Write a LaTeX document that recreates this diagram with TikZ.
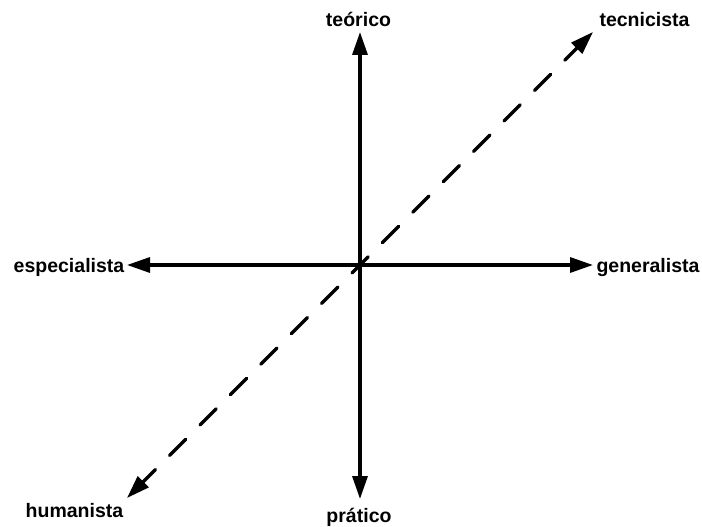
\documentclass[tikz,border=0pt]{standalone}
\usepackage{fontspec}
\setmainfont{Liberation Sans}
\usetikzlibrary{arrows.meta}
\begin{document}
\begin{tikzpicture}[x=1pt,y=-1pt,
  axis/.style={line width=3.3pt,{Triangle[length=23pt,width=15pt]}-{Triangle[length=23pt,width=15pt]}},
  dashaxis/.style={axis,line cap=round,dash pattern=on 23pt off 20pt,dash phase=5pt},
  lbl/.style={font=\fontsize{19.5}{23}\selectfont\bfseries,inner sep=0pt,anchor=base}]
\useasboundingbox (0,0) rectangle (702,527);
\coordinate (top) at (360,32);
\coordinate (bot) at (360,499);
\coordinate (lft) at (127,265);
\coordinate (rgt) at (593,265);
\coordinate (dl) at (127,498);
\coordinate (ur) at (593,32);
\draw[axis] (bot) -- (top);
\draw[axis] (lft) -- (rgt);
\draw[dashaxis] (dl) -- (ur);
\node[lbl] (teo) at (358.5,27) {teórico};
\node[lbl] (pra) at (359,522) {prático};
\node[lbl] (tec) at (644.5,27) {tecnicista};
\node[lbl] (esp) at (69,272) {especialista};
\node[lbl] (gen) at (648,272) {generalista};
\node[lbl] (hum) at (74.5,517) {humanista};
\end{tikzpicture}
\end{document}
